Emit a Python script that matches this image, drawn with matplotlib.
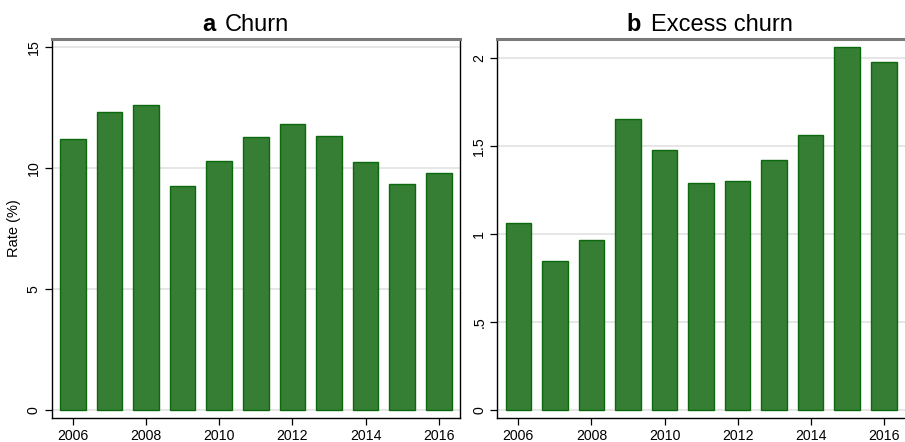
import matplotlib.pyplot as plt

plt.rcParams['font.family'] = ['Liberation Sans', 'DejaVu Sans']

years = [2006, 2007, 2008, 2009, 2010, 2011, 2012, 2013, 2014, 2015, 2016]
churn = [11.19, 12.31, 12.60, 9.25, 10.28, 11.29, 11.81, 11.32, 10.24, 9.34, 9.78]
excess_churn = [1.061, 0.845, 0.964, 1.653, 1.476, 1.289, 1.300, 1.419, 1.562, 2.063, 1.977]

xtick_years = [2006, 2008, 2010, 2012, 2014, 2016]
churn_ticks = [0, 5, 10, 15]
churn_ticklabels = ['0', '5', '10', '15']
excess_ticks = [0, 0.5, 1, 1.5, 2]
excess_ticklabels = ['0', '.5', '1', '1.5', '2']

bar_fill = '#367e33'
bar_edge = '#0d690d'

fig = plt.figure(figsize=(9.05, 4.42), dpi=100)
ax1 = fig.add_axes([0.0575, 0.0543, 0.4508, 0.8575])
ax2 = fig.add_axes([0.5497, 0.0543, 0.4503, 0.8575])


def style_panel(ax, values, ylim, yticks, yticklabels, show_right):
    ax.bar(years, values, width=0.7, color=bar_fill, edgecolor=bar_edge,
           linewidth=1.0, zorder=3)
    ax.set_xlim(2005.43, 2016.58)
    ax.set_ylim(*ylim)
    ax.set_xticks(xtick_years)
    ax.set_xticklabels([str(y) for y in xtick_years], fontsize=10.2)
    ax.set_yticks(yticks)
    ax.set_yticklabels(yticklabels, fontsize=10.2, rotation=90, va='center')
    ax.tick_params(axis='both', length=5, width=0.9, color='black', pad=3)
    ax.grid(axis='y', color='#e4e4e4', linewidth=1.3, zorder=0)
    ax.set_axisbelow(True)
    for side in ['left', 'bottom']:
        ax.spines[side].set_color('black')
        ax.spines[side].set_linewidth(1.0)
    ax.spines['top'].set_color('#7a7a7a')
    ax.spines['top'].set_linewidth(2.2)
    ax.spines['right'].set_visible(show_right)
    ax.spines['right'].set_color('black')
    ax.spines['right'].set_linewidth(1.0)


def panel_title(ax, letter, word, x_letter_end):
    ax.text(x_letter_end, 1.022, letter, transform=ax.transAxes, ha='right',
            va='baseline', fontsize=17, fontweight='bold')
    ax.text(x_letter_end + 0.024, 1.022, word, transform=ax.transAxes, ha='left',
            va='baseline', fontsize=17)


style_panel(ax1, churn, (-0.34, 15.33), churn_ticks, churn_ticklabels, True)
style_panel(ax2, excess_churn, (-0.047, 2.11), excess_ticks, excess_ticklabels, False)

ax1.set_ylabel('Rate (%)', fontsize=10.5)
ax1.yaxis.set_label_coords(-0.076, 0.5)

panel_title(ax1, 'a', 'Churn', 0.40)
panel_title(ax2, 'b', 'Excess churn', 0.352)

fig.savefig('out.png', dpi=100)
